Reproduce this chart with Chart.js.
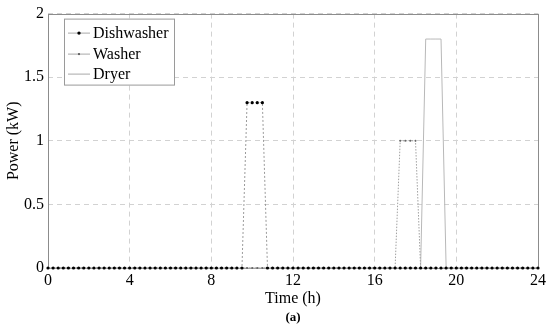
<!DOCTYPE html>
<html>
<head>
<meta charset="utf-8">
<script src="https://cdn.jsdelivr.net/npm/chart.js@4/dist/chart.umd.min.js"></script>
<style>
html,body{margin:0;padding:0;background:#fff;}
#wrap{width:550px;height:329px;}
</style>
</head>
<body>
<div id="wrap"><canvas id="c" width="550" height="329"></canvas></div>
<script>
const hours = [
0,0.25,0.5,0.75,1,1.25,1.5,1.75,2,2.25,2.5,2.75,
3,3.25,3.5,3.75,4,4.25,4.5,4.75,5,5.25,5.5,5.75,
6,6.25,6.5,6.75,7,7.25,7.5,7.75,8,8.25,8.5,8.75,
9,9.25,9.5,9.75,10,10.25,10.5,10.75,11,11.25,11.5,11.75,
12,12.25,12.5,12.75,13,13.25,13.5,13.75,14,14.25,14.5,14.75,
15,15.25,15.5,15.75,16,16.25,16.5,16.75,17,17.25,17.5,17.75,
18,18.25,18.5,18.75,19,19.25,19.5,19.75,20,20.25,20.5,20.75,
21,21.25,21.5,21.75,22,22.25,22.5,22.75,23,23.25,23.5,23.75,
24];
const dishwasher = [
0,0,0,0,0,0,0,0,0,0,0,0,
0,0,0,0,0,0,0,0,0,0,0,0,
0,0,0,0,0,0,0,0,0,0,0,0,
0,0,0,1.3,1.3,1.3,1.3,0,0,0,0,0,
0,0,0,0,0,0,0,0,0,0,0,0,
0,0,0,0,0,0,0,0,0,0,0,0,
0,0,0,0,0,0,0,0,0,0,0,0,
0,0,0,0,0,0,0,0,0,0,0,0,
0];
const washer = [
0,0,0,0,0,0,0,0,0,0,0,0,
0,0,0,0,0,0,0,0,0,0,0,0,
0,0,0,0,0,0,0,0,0,0,0,0,
0,0,0,0,0,0,0,0,0,0,0,0,
0,0,0,0,0,0,0,0,0,0,0,0,
0,0,0,0,0,0,0,0,0,1,1,1,
1,0,0,0,0,0,0,0,0,0,0,0,
0,0,0,0,0,0,0,0,0,0,0,0,
0];
const dryer = [
0,0,0,0,0,0,0,0,0,0,0,0,
0,0,0,0,0,0,0,0,0,0,0,0,
0,0,0,0,0,0,0,0,0,0,0,0,
0,0,0,0,0,0,0,0,0,0,0,0,
0,0,0,0,0,0,0,0,0,0,0,0,
0,0,0,0,0,0,0,0,0,0,0,0,
0,0,1.8,1.8,1.8,1.8,0,0,0,0,0,0,
0,0,0,0,0,0,0,0,0,0,0,0,
0];
const seriesNames = ['Dishwasher','Washer','Dryer'];
const xTicks = [0,4,8,12,16,20,24];
const yTicks = [0,0.5,1,1.5,2];
const yTickLabels = ['0','0.5','1','1.5','2'];

const serif = "'Liberation Serif','Times New Roman',serif";
const toXY = arr => arr.map((v,i)=>({x:hours[i], y:v}));

const framePlugin = {
  id:'frame',
  beforeDatasetsDraw(chart){
    const {ctx, chartArea:a} = chart;
    ctx.save();
    ctx.strokeStyle = '#8c8c8c';
    ctx.lineWidth = 1;
    ctx.strokeRect(Math.round(a.left)+0.5, Math.round(a.top)+0.5, Math.round(a.right-a.left), Math.round(a.bottom-a.top));
    ctx.restore();
  },
  afterDraw(chart){
    const {ctx, chartArea:a} = chart;
    ctx.save();
    const bx = a.left+16, by = a.top+5, bw = 110, bh = 66;
    ctx.fillStyle = '#fff';
    ctx.fillRect(bx, by, bw, bh);
    ctx.strokeStyle = '#9a9a9a';
    ctx.lineWidth = 1;
    ctx.strokeRect(bx+0.5, by+0.5, bw, bh);
    ctx.font = "16px " + serif;
    ctx.textBaseline = 'middle';
    ctx.textAlign = 'left';
    const rows = [by+14, by+35, by+55];
    seriesNames.forEach((n,i)=>{
      const y = rows[i];
      ctx.strokeStyle = '#a8a8a8';
      ctx.beginPath(); ctx.moveTo(bx+4, y+0.5); ctx.lineTo(bx+26, y+0.5); ctx.stroke();
      if(i===0){ ctx.fillStyle='#000'; ctx.beginPath(); ctx.arc(bx+15,y+0.5,1.7,0,Math.PI*2); ctx.fill(); }
      if(i===1){ ctx.fillStyle='#555'; ctx.beginPath(); ctx.arc(bx+15,y+0.5,1.1,0,Math.PI*2); ctx.fill(); }
      ctx.fillStyle = '#000';
      ctx.fillText(n, bx+29, y+1);
    });
    ctx.font = "bold 13px " + serif;
    ctx.textAlign = 'center';
    ctx.fillText('(a)', (a.left+a.right)/2, 318);
    ctx.restore();
  }
};

new Chart(document.getElementById('c'), {
  type:'line',
  data:{
    datasets:[
      {label:seriesNames[0], data:toXY(dishwasher), borderColor:'#9a9a9a', borderWidth:1, borderDash:[2,2],
       pointRadius:1.6, pointBackgroundColor:'#000', pointBorderColor:'#000', pointBorderWidth:0, tension:0, clip:false},
      {label:seriesNames[1], data:toXY(washer), borderColor:'#a0a0a0', borderWidth:1, borderDash:[1.5,1.5],
       pointRadius:1, pointBackgroundColor:'#666', pointBorderColor:'#666', pointBorderWidth:0, tension:0, clip:false},
      {label:seriesNames[2], data:toXY(dryer), borderColor:'#b8b8b8', borderWidth:1,
       pointRadius:0, tension:0, clip:false}
    ]
  },
  options:{
    responsive:false,
    animation:false,
    layout:{padding:{left:0,right:12,top:10,bottom:0}},
    plugins:{legend:{display:false}, tooltip:{enabled:false}},
    scales:{
      x:{
        type:'linear', min:0, max:24,
        afterBuildTicks(s){ s.ticks = xTicks.map(v=>({value:v})); },
        afterFit(s){ s.height = 61; },
        grid:{color:'#d2d2d2', drawTicks:false, tickLength:0},
        border:{display:false, dash:[5,4]},
        ticks:{color:'#000', font:{family:serif, size:16}, padding:3, maxRotation:0},
        title:{display:true, text:'Time (h)', color:'#000', font:{family:serif, size:16}, padding:{top:0,bottom:21}}
      },
      y:{
        min:0, max:2,
        afterBuildTicks(s){ s.ticks = yTicks.map(v=>({value:v})); },
        afterFit(s){ s.width = 48; },
        grid:{color:'#d2d2d2', drawTicks:false, tickLength:0},
        border:{display:false, dash:[5,4]},
        ticks:{color:'#000', font:{family:serif, size:16}, padding:4,
               callback:(v,i)=>yTickLabels[i]},
        title:{display:true, text:'Power (kW)', color:'#000', font:{family:serif, size:16}, padding:{top:4,bottom:0}}
      }
    }
  },
  plugins:[framePlugin]
});
</script>
</body>
</html>
